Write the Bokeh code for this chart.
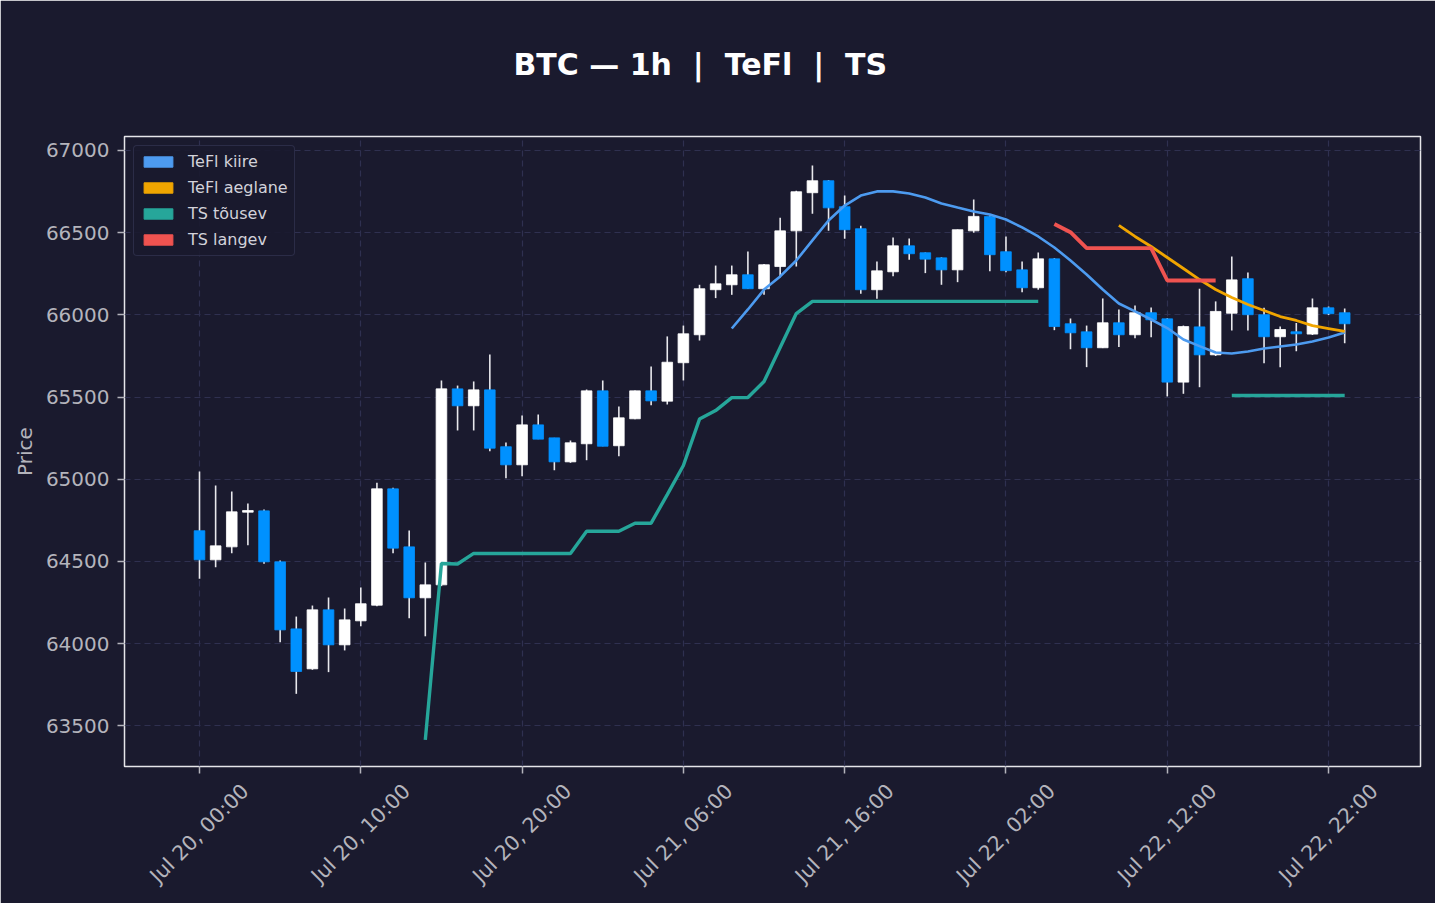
import math
import pandas as pd
from bokeh.plotting import figure
from bokeh.models import (ColumnDataSource, FixedTicker, CustomJSTickFormatter,
                          DatetimeTickFormatter, DatetimeAxis, Legend, LegendItem,
                          Range1d, SingleIntervalTicker, Title)
from bokeh.embed import file_html
from bokeh.resources import INLINE

NaN = float("nan")

# ---------------- data ----------------
start_time = "2024-07-20 00:00"
n_bars = 72
times = pd.date_range(start_time, periods=n_bars, freq="h")

opens = [64687, 64510, 64589, 64800, 64808, 64498, 64090, 63847, 64206, 63993,
         64139, 64234, 64942, 64589, 64279, 64358, 65550, 65447, 65544, 65198,
         65088, 65331, 65252, 65106, 65216, 65538, 65204, 65368, 65538, 65475,
         65709, 65879, 66153, 66183, 66244, 66159, 66294, 66511, 66743, 66816,
         66658, 66524, 66153, 66262, 66420, 66378, 66347, 66274, 66511, 66599,
         66384, 66274, 66165, 66341, 65946, 65897, 65800, 65952, 65879, 66013,
         65976, 65591, 65927, 65757, 66010, 66220, 66001, 65867, 65897, 65883,
         66043, 66013]
highs = [65047, 64962, 64926, 64853, 64816, 64506, 64165, 64232, 64281, 64214,
         64342, 64979, 64948, 64688, 64494, 65601, 65570, 65595, 65759, 65224,
         65388, 65394, 65252, 65236, 65546, 65601, 65443, 65540, 65686, 65869,
         65935, 66183, 66300, 66300, 66386, 66310, 66591, 66755, 66909, 66820,
         66726, 66542, 66325, 66471, 66465, 66380, 66350, 66520, 66702, 66605,
         66477, 66325, 66380, 66345, 65978, 65935, 66100, 66033, 66057, 66045,
         65980, 65935, 66159, 66082, 66355, 66258, 66043, 65929, 65950, 66100,
         66051, 66039]
lows = [64395, 64465, 64550, 64599, 64486, 64009, 63695, 63841, 63827, 63959,
        64106, 64228, 64550, 64155, 64045, 64350, 65297, 65297, 65171, 65007,
        65019, 65244, 65055, 65100, 65116, 65201, 65140, 65365, 65451, 65455,
        65601, 65844, 66102, 66122, 66159, 66122, 66229, 66294, 66615, 66511,
        66463, 66128, 66098, 66235, 66335, 66254, 66183, 66199, 66499, 66266,
        66260, 66138, 66153, 65907, 65791, 65682, 65798, 65804, 65858, 65864,
        65504, 65520, 65560, 65750, 65905, 65905, 65706, 65682, 65779, 65877,
        66000, 65828]
closes = [64510, 64595, 64802, 64810, 64498, 64084, 63831, 64206, 63993, 64145,
          64243, 64942, 64581, 64279, 64358, 65550, 65447, 65544, 65189, 65088,
          65331, 65244, 65106, 65222, 65538, 65201, 65374, 65538, 65477, 65712,
          65885, 66159, 66189, 66244, 66159, 66305, 66511, 66749, 66816, 66651,
          66518, 66153, 66268, 66420, 66372, 66339, 66274, 66518, 66599, 66366,
          66269, 66165, 66341, 65929, 65891, 65800, 65952, 65879, 66013, 65970,
          65591, 65929, 65757, 66021, 66213, 66001, 65867, 65911, 65885, 66043,
          66007, 65946]

tefl_fast = [NaN] * 33 + [
    65917, 66033, 66154, 66234, 66331, 66453, 66574, 66665, 66726, 66751,
    66751, 66738, 66714, 66678, 66653, 66629, 66611, 66580, 66532, 66477,
    66410, 66331, 66246, 66154, 66069, 66021, 65972, 65920, 65850, 65810,
    65771, 65765, 65777, 65796, 65808, 65820, 65838, 65862, 65893]
tefl_slow = [NaN] * 57 + [
    66544, 66477, 66416, 66349, 66282, 66215, 66154, 66106, 66063, 66027,
    65990, 65966, 65935, 65917, 65899]
ts_up = [NaN] * 14 + [
    63415, 64488, 64485, 64549, 64549, 64549, 64549, 64549, 64549, 64549,
    64684, 64684, 64684, 64733, 64733, 64907, 65084, 65366, 65418, 65497,
    65497, 65595, 65802, 66008, 66082, 66082, 66082, 66082, 66082, 66082,
    66082, 66082, 66082, 66082, 66082, 66082, 66082, 66082, 66082] + [NaN] * 11 + [
    65510, 65510, 65510, 65510, 65510, 65510, 65510, 65510]
ts_down = [NaN] * 53 + [
    66553, 66503, 66406, 66406, 66406, 66406, 66406, 66209, 66209, 66209,
    66209] + [NaN] * 8

tick_hours = [0, 10, 20, 30, 40, 50, 60, 70]
series_names = ["TeFl kiire", "TeFl aeglane", "TS tõusev", "TS langev"]
series_colors = ["#4d9bf0", "#f0a500", "#26a69a", "#ef5350"]

# ---------------- style ----------------
BG = "#1a1a2e"
UP = "#ffffff"
DOWN = "#0091ff"
TXT = "#b4b4bc"
FONT = "DejaVu Sans"
HOUR = 3600 * 1000.0
Y_LO, Y_HI = 63253, 67085
X_LO_H, X_HI_H = -4.65, 75.7
LABEL_SHIFT_H = 2.83   # rotated labels are centred on their tick, not end-anchored

t_ms = [t.value / 1e6 for t in times]
t0 = t_ms[0]

up_flags = [c >= o for o, c in zip(opens, closes)]
src = ColumnDataSource(dict(
    t=t_ms, o=opens, h=highs, l=lows, c=closes,
    top=[max(o, c) for o, c in zip(opens, closes)],
    bot=[min(o, c) for o, c in zip(opens, closes)],
    col=[UP if u else DOWN for u in up_flags],
))

p = figure(width=1435, height=903, x_axis_type="datetime",
           output_backend="svg", toolbar_location=None,
           min_border_left=124, min_border_right=15,
           min_border_top=136, min_border_bottom=137,
           x_range=Range1d(t0 + X_LO_H * HOUR, t0 + X_HI_H * HOUR),
           y_range=Range1d(Y_LO, Y_HI))
p.extra_x_ranges = {"labels": Range1d(t0 + (X_LO_H - LABEL_SHIFT_H) * HOUR,
                                      t0 + (X_HI_H - LABEL_SHIFT_H) * HOUR)}

p.background_fill_color = BG
p.border_fill_color = BG
p.outline_line_color = "#e6e6ea"
p.outline_line_width = 1.5

# title (outermost) plus a thin spacer between it and the frame
p.title.text = "BTC \u2014 1h \u00a0|\u00a0 TeFl \u00a0|\u00a0 TS"
p.title.align = "left"
p.title.offset = 389
p.title.text_font = FONT
p.title.text_font_size = "30px"
p.title.text_font_style = "bold"
p.title.text_color = "#ffffff"
p.title.standoff = 89
p.add_layout(Title(text="\u00a0", text_font_size="1px", standoff=7,
                   text_color=BG), "above")

# axes
for ax in (p.xaxis[0], p.yaxis[0]):
    ax.axis_line_color = None
    ax.major_tick_line_color = TXT
    ax.major_tick_line_width = 1.5
    ax.major_tick_out = 7
    ax.major_tick_in = 0
    ax.minor_tick_line_color = None
    ax.major_label_text_font = FONT
    ax.major_label_text_font_size = "20px"
    ax.major_label_text_color = TXT
    ax.major_label_standoff = 8

tick_ms = [t_ms[h] for h in tick_hours]
p.xaxis[0].ticker = FixedTicker(ticks=tick_ms)
p.xaxis[0].formatter = CustomJSTickFormatter(code="return ''")
p.xaxis[0].major_label_standoff = 0

fmt = "%b %d, %H:%M"
label_axis = DatetimeAxis(
    x_range_name="labels",
    ticker=FixedTicker(ticks=tick_ms),
    formatter=DatetimeTickFormatter(milliseconds=fmt, seconds=fmt, minsec=fmt,
                                    minutes=fmt, hourmin=fmt, hours=fmt,
                                    days=fmt, months=fmt, years=fmt),
    major_label_orientation=math.pi / 4,
    axis_line_color=None, major_tick_line_color=None,
    major_tick_out=0, major_tick_in=0, minor_tick_line_color=None,
    major_label_text_font=FONT, major_label_text_font_size="20.5px",
    major_label_text_color=TXT, major_label_standoff=14)
p.add_layout(label_axis, "below")

p.yaxis.ticker = SingleIntervalTicker(interval=500)
p.yaxis.axis_label = "Price"
p.yaxis.axis_label_text_font = FONT
p.yaxis.axis_label_text_font_size = "20px"
p.yaxis.axis_label_text_font_style = "normal"
p.yaxis.axis_label_text_color = TXT
p.yaxis.axis_label_standoff = 6

for g in (p.xgrid[0], p.ygrid[0]):
    g.grid_line_color = "#2f3050"
    g.grid_line_width = 1.2
    g.grid_line_dash = "6 4"

# candles
p.segment(x0="t", x1="t", y0="h", y1="l", source=src,
          line_color="#e8e8ec", line_width=1.6)
p.vbar(x="t", width=0.66 * HOUR, top="top", bottom="bot", source=src,
       fill_color="col", line_color="col", line_width=0.8)

# indicator lines
widths = [2.6, 2.8, 3.4, 3.8]
for vals, col, w in zip([tefl_fast, tefl_slow, ts_up, ts_down], series_colors, widths):
    p.line(x=t_ms, y=vals, line_color=col, line_width=w)

# legend with patch glyphs (renderers hold no drawable data)
items = []
for name, col in zip(series_names, series_colors):
    r = p.quad(left=[NaN], right=[NaN], top=[NaN], bottom=[NaN],
               fill_color=col, line_color=col)
    items.append(LegendItem(label=name, renderers=[r]))
legend = Legend(items=items, location="top_left")
legend.glyph_width = 36
legend.glyph_height = 13
legend.label_standoff = 12
legend.label_text_font = FONT
legend.label_text_font_size = "16px"
legend.label_text_color = "#d2d2da"
legend.spacing = 7
legend.padding = 6
legend.margin = 9
legend.background_fill_color = BG
legend.background_fill_alpha = 0.9
legend.border_line_color = "#3e4062"
legend.border_line_width = 1.5
try:
    legend.border_radius = 4
except Exception:
    pass
p.add_layout(legend)

open("out.html", "w").write(file_html(p, INLINE))
